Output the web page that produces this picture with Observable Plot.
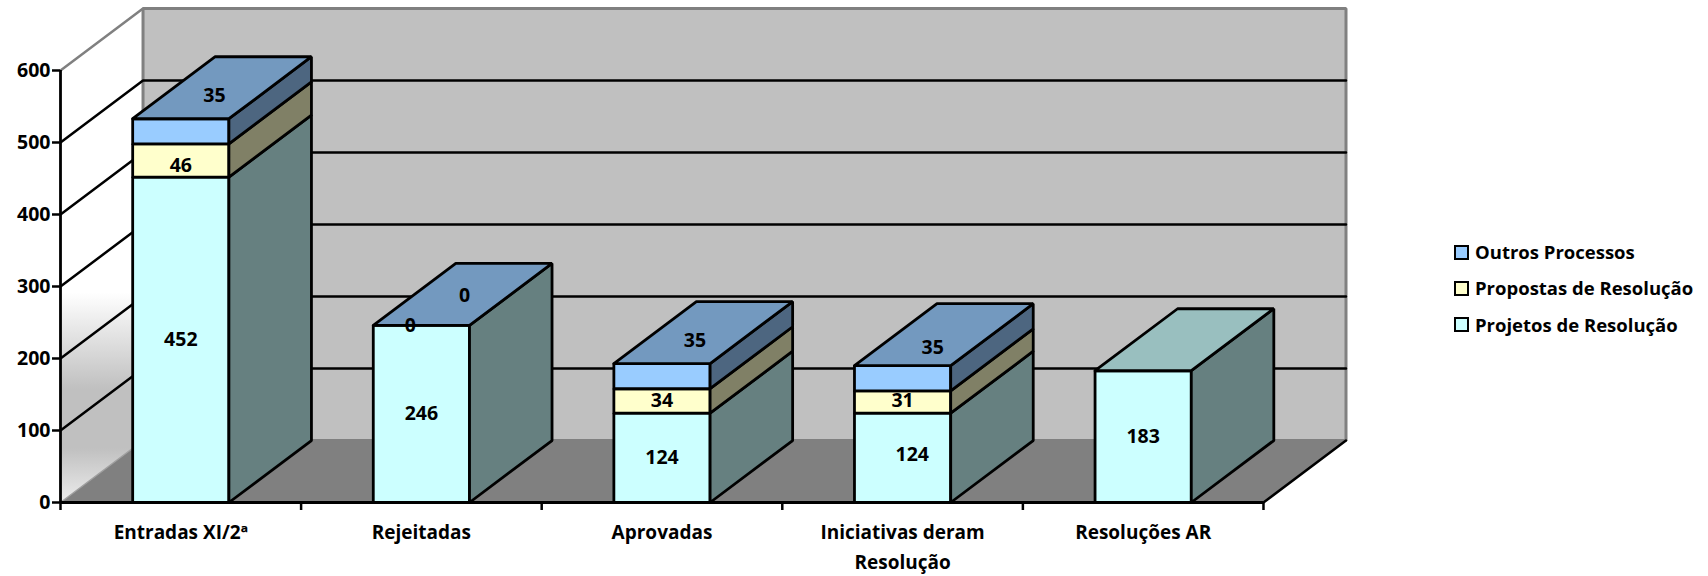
<!DOCTYPE html>
<html lang="pt">
<head>
<meta charset="utf-8">
<script src="https://cdn.jsdelivr.net/npm/d3@7"></script>
<script src="https://cdn.jsdelivr.net/npm/@observablehq/plot@0.6"></script>
<style>
html,body{margin:0;padding:0;background:#fff;overflow:hidden}
#wrap{position:relative;width:1708px;height:576px;font-family:"Open Sans",sans-serif;font-weight:700;color:#000}
#legend{position:absolute;left:1454px;top:234px;font-size:18.5px;line-height:36.4px}
#legend div{display:flex;align-items:center;height:36.4px;white-space:nowrap}
#legend i{display:inline-block;box-sizing:border-box;width:15px;height:15px;border:2.4px solid #000;margin-right:6px}
</style>
</head>
<body>
<div id="wrap"><div id="chart"></div><div id="legend"></div></div>
<script>
const categories = ["Entradas XI/2ª", "Rejeitadas", "Aprovadas", "Iniciativas deram\nResolução", "Resoluções AR"];
const projetos = [452, 246, 124, 124, 183];
const propostas = [46, 0, 34, 31, null];
const outros = [35, 0, 35, 35, null];
const yTicks = [0, 100, 200, 300, 400, 500, 600];
const seriesNames = ["Projetos de Resolução", "Propostas de Resolução", "Outros Processos"];

// styling and 3D geometry
const front = ["#CCFFFF", "#FFFFCC", "#99CCFF"];
const side = ["#668080", "#808066", "#4D6680"];
const topFace = ["#99BFBF", "#BFBF99", "#7399BF"];
const series = [projetos, propostas, outros];
const depthX = 0.343, depthY = 86.1;   // oblique depth in category / value units
const barHalf = 0.2;
const yMax = 600, nCat = categories.length;
const FS = 18.5;

const faces = [];
let id = 0;
function face(points, fill) { const k = id++; for (const [x, y] of [...points, points[0]]) faces.push({x, y, fill, k}); }

categories.forEach((_, i) => {
  const x1 = i + 0.5 - barHalf, x2 = i + 0.5 + barHalf;
  let base = 0, lastIdx = 0;
  series.forEach((s, j) => {
    const v = s[i];
    if (v == null) return;
    lastIdx = j;
    if (v > 0) {
      face([[x1, base], [x2, base], [x2, base + v], [x1, base + v]], front[j]);
      face([[x2, base], [x2 + depthX, base + depthY], [x2 + depthX, base + v + depthY], [x2, base + v]], side[j]);
    }
    base += v;
  });
  face([[x1, base], [x2, base], [x2 + depthX, base + depthY], [x1 + depthX, base + depthY]], topFace[lastIdx]);
});

// value labels: segment middle, with the top series lifted onto the bar's top face
const labelNudges = [
  [[0, 0], [0, -7], [0.14, 49]],
  [[0, 0], [-0.046, 0], [0.18, 41]],
  [[0, 0], [0, 0], [0.137, 49]],
  [[0.04, 5], [0, 2], [0.125, 42]],
  [[0, 0]]
];
const labels = [];
categories.forEach((_, i) => {
  let base = 0;
  series.forEach((s, j) => {
    const v = s[i];
    if (v == null) return;
    const [nx, ny] = labelNudges[i][j];
    labels.push({x: i + 0.5 + nx, y: base + v / 2 + ny, t: String(v)});
    base += v;
  });
});

const grid = yTicks.filter(v => v > 0 && v < yMax).flatMap(v => [
  {x: 0, y: v, v}, {x: depthX, y: v + depthY, v}, {x: nCat + depthX, y: v + depthY, v}
]);

const wall = [{x:0,y:0},{x:depthX,y:depthY},{x:depthX,y:yMax+depthY},{x:0,y:yMax},{x:0,y:0}];
const back = [{x:depthX,y:depthY},{x:nCat+depthX,y:depthY},{x:nCat+depthX,y:yMax+depthY},{x:depthX,y:yMax+depthY},{x:depthX,y:depthY}];
const floor = [{x:0,y:0},{x:nCat,y:0},{x:nCat+depthX,y:depthY},{x:depthX,y:depthY},{x:0,y:0}];

const gradient = () => {
  const svg = d3.create("svg:defs");
  const g = svg.append("linearGradient").attr("id", "wallShade").attr("x1", 0).attr("x2", 0).attr("y1", 0).attr("y2", 1);
  [[0, "#ffffff"], [0.575, "#ffffff"], [0.77, "#c0c0c0"], [0.89, "#c0c0c0"], [1, "#ececec"]]
    .forEach(([o, c]) => g.append("stop").attr("offset", o).attr("stop-color", c));
  return svg.node();
};

const chart = Plot.plot({
  width: 1708, height: 576,
  marginLeft: 60, marginRight: 362.5, marginTop: 8, marginBottom: 74,
  x: {type: "linear", domain: [0, nCat + depthX]},
  y: {type: "linear", domain: [0, yMax + depthY]},
  color: {type: "identity"},
  style: {fontFamily: '"Open Sans", sans-serif', fontWeight: 700, fontSize: FS + "px", color: "#000", background: "transparent", overflow: "visible"},
  marks: [
    gradient,
    Plot.line(wall, {x: "x", y: "y", fill: "url(#wallShade)", stroke: "none"}),
    Plot.line(back, {x: "x", y: "y", fill: "#C0C0C0", stroke: "#808080", strokeWidth: 3, strokeLinejoin: "miter"}),
    Plot.line(floor, {x: "x", y: "y", fill: "#808080", stroke: "none"}),
    Plot.line([{x:0,y:yMax},{x:depthX,y:yMax+depthY}], {x: "x", y: "y", stroke: "#808080", strokeWidth: 2.5}),
    Plot.line([{x:0,y:0},{x:depthX,y:depthY}], {x: "x", y: "y", stroke: "#a0a0a0", strokeWidth: 1.5}),
    Plot.line(grid, {x: "x", y: "y", z: "v", stroke: "#000", strokeWidth: 2.5, strokeLinejoin: "miter"}),
    Plot.line(faces, {x: "x", y: "y", z: "k", fill: "fill", stroke: "#000", strokeWidth: 2.8, strokeLinejoin: "miter"}),
    Plot.line([{x:nCat,y:0},{x:nCat+depthX,y:depthY}], {x: "x", y: "y", stroke: "#000", strokeWidth: 2.5}),
    Plot.ruleX([0], {y1: 0, y2: yMax, stroke: "#000", strokeWidth: 2.8}),
    Plot.ruleY([0], {x1: 0, x2: nCat, stroke: "#000", strokeWidth: 2.8}),
    Plot.axisY({ticks: yTicks, tickSize: 8, tickPadding: 2, strokeWidth: 2.5, strokeOpacity: 1, stroke: "#000", label: null, tickFormat: d3.format("d"), fill: "#000", textStroke: "none", fontSize: 19.5}),
    Plot.axisX({ticks: d3.range(nCat + 1), tickSize: 8, tickFormat: () => "", strokeWidth: 2.5, stroke: "#000", label: null}),
    Plot.axisX({ticks: categories.map((_, i) => i + 0.5), tickSize: 0, tickPadding: 15, lineHeight: 1.6, tickFormat: d => categories[d - 0.5], label: null, fontSize: 19, textOverflow: null}),
    Plot.text(labels, {x: "x", y: "y", text: "t", fill: "#000", fontSize: 19.5, fontWeight: 700})
  ]
});
document.getElementById("chart").appendChild(chart);

const legend = document.getElementById("legend");
[2, 1, 0].forEach(j => {
  const row = document.createElement("div");
  const sw = document.createElement("i");
  sw.style.background = front[j];
  row.appendChild(sw);
  row.appendChild(document.createTextNode(seriesNames[j]));
  legend.appendChild(row);
});
</script>
</body>
</html>
